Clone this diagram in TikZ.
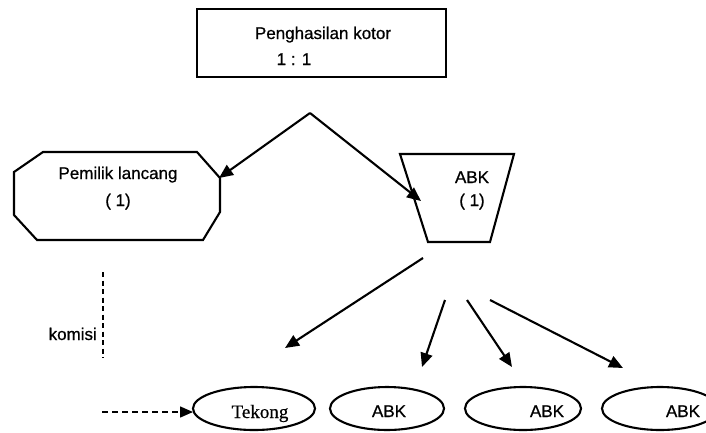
\documentclass[tikz,border=0pt]{standalone}
\usepackage{fontspec}
\setmainfont{Liberation Sans}[FakeBold=0.7]
\newfontfamily\serifface{Liberation Serif}[FakeBold=0.5]
\usetikzlibrary{arrows.meta}
\begin{document}
\begin{tikzpicture}[x=1pt,y=-1pt,
  outline/.style={draw=black,line width=2.1pt,line join=miter},
  label/.style={font=\fontsize{17}{20}\selectfont,anchor=base,inner sep=0pt},
  flow/.style={draw=black,line width=2.1pt,-{Triangle[length=14pt,width=12pt]}},
  dashflow/.style={draw=black,line width=1.5pt,dash pattern=on 6pt off 4pt,-{Triangle[length=13pt,width=11pt]}},
  commission/.style={draw=black,line width=2.4pt,dash pattern=on 5pt off 3.5pt}]
  \useasboundingbox (0,0) rectangle (706,432);
  \clip (0,0) rectangle (706,432);

  % gross income box
  \draw[outline] (197,9) rectangle (446,77);
  \node[label] (gross) at (323,39) {Penghasilan kotor};
  \node[label] (ratio) at (294,65) {1 : 1};

  % boat owner (octagon)
  \draw[outline] (43,152) -- (197,152) -- (220,178) -- (220,212) -- (203,240)
                 -- (37,240) -- (14,215) -- (14,172) -- cycle;
  \node[label] (owner) at (118,179) {Pemilik lancang};
  \node[label] (ownershare) at (118,206) {( 1)};

  % crew (trapezoid)
  \draw[outline] (400,154) -- (514,154) -- (490,242) -- (428,242) -- cycle;
  \node[label] (crew) at (472,183) {ABK};
  \node[label] (crewshare) at (472,206) {( 1)};

  % split of the gross income
  \coordinate (split) at (310,113);
  \coordinate (ownerin) at (219,178);
  \coordinate (crewin) at (421,201);
  \draw[flow] (split) -- (ownerin);
  \draw[flow] (split) -- (crewin);

  % commission line
  \coordinate (comtop) at (103,272);
  \coordinate (combot) at (103,358);
  \draw[commission] (comtop) -- (combot);
  \node[label,anchor=base east] (komisi) at (97,340) {komisi};

  % crew members
  \draw[outline] (254,408.5) ellipse [x radius=61,y radius=21.5];
  \draw[outline] (387,408.5) ellipse [x radius=57,y radius=21.5];
  \draw[outline] (523,408.5) ellipse [x radius=58,y radius=21.5];
  \draw[outline] (660,408.5) ellipse [x radius=58,y radius=21.5];
  \node[label,font=\serifface\fontsize{19}{22}\selectfont] (tekong) at (260,418) {Tekong};
  \node[label] (abka) at (389,417) {ABK};
  \node[label] (abkb) at (547,417) {ABK};
  \node[label] (abkc) at (683,417) {ABK};

  % distribution of the crew share
  \coordinate (crewout) at (423,258);
  \coordinate (tekongin) at (285,348);
  \coordinate (outa) at (445,300);
  \coordinate (ina) at (422,367);
  \coordinate (outb) at (467,300);
  \coordinate (inb) at (512,367);
  \coordinate (outc) at (490,300);
  \coordinate (inc) at (623,368);
  \draw[flow] (crewout) -- (tekongin);
  \draw[flow] (outa) -- (ina);
  \draw[flow] (outb) -- (inb);
  \draw[flow] (outc) -- (inc);

  % commission to the skipper
  \coordinate (comstart) at (102,412);
  \coordinate (tekongleft) at (193,412);
  \draw[dashflow] (comstart) -- (tekongleft);
\end{tikzpicture}
\end{document}
